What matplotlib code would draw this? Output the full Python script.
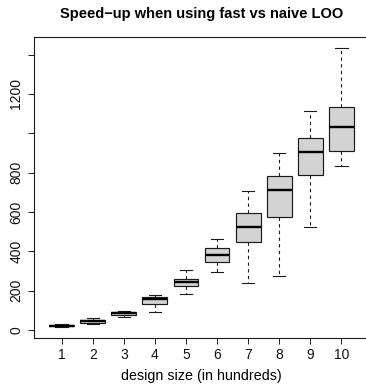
import matplotlib
matplotlib.use("Agg")
import matplotlib.pyplot as plt

plt.rcParams['font.family'] = ['Liberation Sans', 'DejaVu Sans']

# Speed-up summary per design size (in hundreds)
design_sizes = [1, 2, 3, 4, 5, 6, 7, 8, 9, 10]
whisker_low = [16, 31, 66, 90, 185, 297, 238, 273, 523, 835]
quart_1 = [19, 38, 74, 132, 223, 346, 449, 573, 790, 912]
medians = [21, 44, 84, 160, 242, 383, 524, 711, 906, 1030]
quart_3 = [24, 50, 90, 166, 259, 417, 594, 785, 975, 1131]
whisker_high = [28, 60, 95, 180, 307, 460, 707, 899, 1111, 1434]

y_ticks = [0, 200, 400, 600, 800, 1000, 1200, 1400]
y_tick_labels = ['0', '200', '400', '600', '800', '', '1200', '']

title = "Speed\u2212up when using fast vs naive LOO"
xlabel = "design size (in hundreds)"

W, H = 366, 384
fig = plt.figure(figsize=(W / 100, H / 100), dpi=100)
left, right, top, bottom = 33.7, 369.3, 36.7, 338.0
ax = fig.add_axes([left / W, 1 - bottom / H, (right - left) / W, (bottom - top) / H])

stats = []
for lab, lo, q1, md, q3, hi in zip(design_sizes, whisker_low, quart_1, medians, quart_3, whisker_high):
    stats.append(dict(label=str(lab), whislo=lo, q1=q1, med=md, q3=q3, whishi=hi, fliers=[]))

ax.bxp(stats, positions=design_sizes, widths=0.8, capwidths=0.4, patch_artist=True,
       showfliers=False,
       boxprops=dict(facecolor='#D3D3D3', edgecolor='#1a1a1a', linewidth=0.85),
       medianprops=dict(color='black', linewidth=1.7, solid_capstyle='butt'),
       whiskerprops=dict(color='#1a1a1a', linewidth=0.8, linestyle=(0, (3, 3))),
       capprops=dict(color='#1a1a1a', linewidth=0.8))

lo_all, hi_all = min(whisker_low), max(whisker_high)
pad = 0.04 * (hi_all - lo_all)
ax.set_ylim(lo_all - pad, hi_all + pad)
ax.set_xlim(0.1, 10.9)

ax.set_yticks(y_ticks)
ax.set_yticklabels(y_tick_labels, rotation=90, va='center')
ax.set_xticks(design_sizes)
ax.set_xticklabels([str(d) for d in design_sizes])
ax.tick_params(axis='both', direction='out', length=4.5, width=0.7, colors='#1a1a1a',
               labelsize=10, labelcolor='#111111')
ax.tick_params(axis='x', pad=3)
ax.tick_params(axis='y', pad=3)

for s in ax.spines.values():
    s.set_linewidth(0.8)
    s.set_color('#1a1a1a')
ax.spines['right'].set_visible(False)

fig.text((left + right) / 2 / W, 1 - 14 / H, title, ha='center', va='center',
         fontsize=10.5, fontweight='bold')
fig.text((left + right) / 2 / W, 1 - 376 / H, xlabel, ha='center', va='center', fontsize=10.3)

fig.savefig("out.png", dpi=100)
